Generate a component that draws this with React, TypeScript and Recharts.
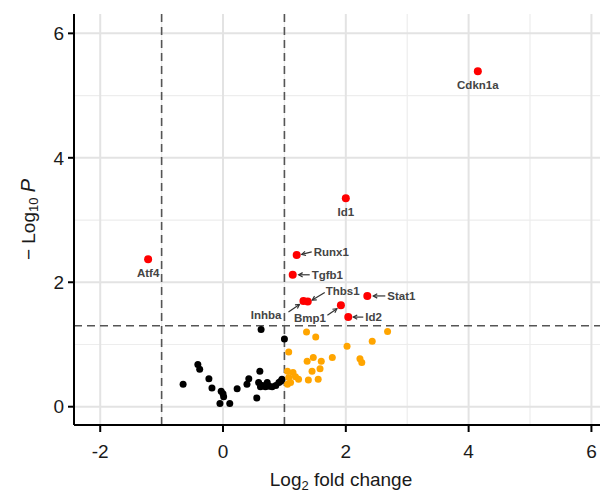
import React from 'react';
import { ScatterChart, Scatter, XAxis, YAxis, ReferenceLine } from 'recharts';

// Significant, labelled genes (red)
const sigGenes = ['Cdkn1a', 'Id1', 'Atf4', 'Runx1', 'Tgfb1', 'Inhba', 'Thbs1', 'Bmp1', 'Stat1', 'Id2'];
const sigX = [4.15, 2.0, -1.22, 1.2, 1.135, 1.31, 1.38, 1.92, 2.35, 2.04];
const sigY = [5.39, 3.35, 2.37, 2.44, 2.12, 1.7, 1.69, 1.63, 1.78, 1.44];

// Fold change passes, p-value does not (orange)
const upX = [1.36, 1.51, 2.68, 2.43, 2.02, 1.07, 1.37, 1.47, 1.6, 1.78, 2.23, 2.26, 1.58, 1.45, 1.55, 1.39, 1.05, 1.14, 1.18, 1.23, 1.07, 1.1, 1.05];
const upY = [1.2, 1.12, 1.21, 1.05, 0.97, 0.88, 0.73, 0.79, 0.73, 0.79, 0.77, 0.71, 0.61, 0.57, 0.44, 0.43, 0.57, 0.55, 0.48, 0.44, 0.47, 0.39, 0.36];

// Not significant (black)
const nsX = [0.62, 1.0, -0.65, -0.41, -0.38, -0.23, -0.18, -0.03, 0.0, -0.05, 0.11, 0.01, 0.23, 0.42, 0.39, 0.6, 0.55, 0.58, 0.64, 0.69, 0.75, 0.8, 0.86, 0.91, 0.94, 0.96, 0.72, 0.61];
const nsY = [1.24, 1.09, 0.36, 0.68, 0.6, 0.45, 0.3, 0.25, 0.21, 0.05, 0.05, 0.16, 0.29, 0.45, 0.36, 0.57, 0.14, 0.39, 0.34, 0.32, 0.33, 0.32, 0.34, 0.39, 0.41, 0.44, 0.39, 0.32];

const xTicks = [-2, 0, 2, 4, 6];
const yTicks = [0, 2, 4, 6];
const xMinor = [-1, 1, 3, 5];
const yMinor = [1, 3, 5];
const fcCutoffs = [-1, 1];
const pCutoff = 1.301;

// label placement (pixel offsets from the point)
type Lay = { tx: number; ty: number; anchor: 'start' | 'middle' | 'end'; arrow?: [number, number, number, number] };
const labelLayout: Record<string, Lay> = {
  Cdkn1a: { tx: 0, ty: 14, anchor: 'middle' },
  Id1: { tx: 0, ty: 14, anchor: 'middle' },
  Atf4: { tx: 0, ty: 14, anchor: 'middle' },
  Runx1: { tx: 17, ty: -3, anchor: 'start', arrow: [15, -3, 5, -0.5] },
  Tgfb1: { tx: 19, ty: 0, anchor: 'start', arrow: [17, 0, 6, 0] },
  Inhba: { tx: -22, ty: 13.6, anchor: 'end', arrow: [-15, 11, -4, 3.5] },
  Thbs1: { tx: 18, ty: -11, anchor: 'start', arrow: [17, -9, 4.5, -1.5] },
  Bmp1: { tx: -15, ty: 13, anchor: 'end', arrow: [-13.5, 10, -4, 3.5] },
  Stat1: { tx: 20, ty: 0, anchor: 'start', arrow: [18, 0, 6, 0] },
  Id2: { tx: 17, ty: 0, anchor: 'start', arrow: [15, 0, 5, 0] },
};

const toPoints = (xs: number[], ys: number[], names?: string[]) =>
  xs.map((x, i) => ({ x, y: ys[i], gene: names ? names[i] : '' }));

const sigData = toPoints(sigX, sigY, sigGenes);
const upData = toPoints(upX, upY);
const nsData = toPoints(nsX, nsY);

const FONT = '"Liberation Sans", Arial, sans-serif';

const dot = (color: string, r: number) => (props: any) => {
  const { cx, cy } = props;
  if (cx == null || cy == null) return <g />;
  return <circle cx={cx} cy={cy} r={r} fill={color} />;
};

const Arrow = ({ x1, y1, x2, y2 }: { x1: number; y1: number; x2: number; y2: number }) => {
  const ang = Math.atan2(y2 - y1, x2 - x1);
  const L = 4.5;
  const s = 0.5;
  const ax = x2 - L * Math.cos(ang - s);
  const ay = y2 - L * Math.sin(ang - s);
  const bx = x2 - L * Math.cos(ang + s);
  const by = y2 - L * Math.sin(ang + s);
  return (
    <g stroke="#333" strokeWidth={1.2} fill="none">
      <line x1={x1} y1={y1} x2={x2} y2={y2} />
      <polyline points={`${ax},${ay} ${x2},${y2} ${bx},${by}`} />
    </g>
  );
};

const SigShape = (props: any) => {
  const { cx, cy, payload } = props;
  if (cx == null || cy == null) return <g />;
  const lay = labelLayout[payload.gene];
  return (
    <g>
      <circle cx={cx} cy={cy} r={4} fill="#ff0000" />
      {lay && lay.arrow && (
        <Arrow x1={cx + lay.arrow[0]} y1={cy + lay.arrow[1]} x2={cx + lay.arrow[2]} y2={cy + lay.arrow[3]} />
      )}
      {lay && (
        <text
          x={cx + lay.tx}
          y={cy + lay.ty}
          textAnchor={lay.anchor}
          dominantBaseline="central"
          fontSize={11.5}
          fontWeight="bold"
          fill="#444444"
          fontFamily={FONT}
        >
          {payload.gene}
        </text>
      )}
    </g>
  );
};

const YLabel = (props: any) => {
  const vb = props.viewBox || {};
  const cx = (vb.x || 0) + 20;
  const cy = (vb.y || 0) + (vb.height || 0) / 2;
  return (
    <text
      x={cx}
      y={cy}
      transform={`rotate(-90, ${cx}, ${cy})`}
      textAnchor="middle"
      dominantBaseline="central"
      fontSize={19}
      fill="#1a1a1a"
      fontFamily={FONT}
    >
      <tspan>{'\u2212 Log'}</tspan>
      <tspan fontSize={13} dy={5}>10</tspan>
      <tspan dy={-5}>{' '}</tspan>
      <tspan fontStyle="italic" fontSize={20}>P</tspan>
    </text>
  );
};

const XLabel = (props: any) => {
  const vb = props.viewBox || {};
  const cx = (vb.x || 0) + (vb.width || 0) / 2;
  const y = (vb.y || 0) + 61;
  return (
    <text x={cx} y={y} textAnchor="middle" fontSize={19} fill="#1a1a1a" fontFamily={FONT}>
      <tspan>Log</tspan>
      <tspan fontSize={13} dy={4}>2</tspan>
      <tspan dy={-4}> fold change</tspan>
    </text>
  );
};

const tickStyle = { fontSize: 19, fill: '#1a1a1a', fontFamily: FONT };

export default function App() {
  return (
    <div style={{ width: 600, height: 485, fontFamily: FONT }}>
      <ScatterChart width={600} height={485} margin={{ top: 6, right: 0, bottom: 0, left: 0 }}>
        {xMinor.map((v) => (
          <ReferenceLine key={'xm' + v} x={v} stroke="#ededed" strokeWidth={1.2} />
        ))}
        {yMinor.map((v) => (
          <ReferenceLine key={'ym' + v} y={v} stroke="#ededed" strokeWidth={1.2} />
        ))}
        {xTicks.map((v) => (
          <ReferenceLine key={'xg' + v} x={v} stroke="#e3e3e3" strokeWidth={2} />
        ))}
        {yTicks.map((v) => (
          <ReferenceLine key={'yg' + v} y={v} stroke="#e3e3e3" strokeWidth={2} />
        ))}
        {fcCutoffs.map((v) => (
          <ReferenceLine key={'fc' + v} x={v} stroke="#555" strokeWidth={1.6} strokeDasharray="8 5" />
        ))}
        <ReferenceLine y={pCutoff} stroke="#555" strokeWidth={1.6} strokeDasharray="8 5" />
        <XAxis
          type="number"
          dataKey="x"
          domain={[-2.427, 6.27]}
          ticks={xTicks}
          interval={0}
          allowDataOverflow
          height={68}
          tickSize={7}
          tickMargin={13}
          axisLine={{ stroke: '#000', strokeWidth: 2 }}
          tickLine={{ stroke: '#000', strokeWidth: 2 }}
          tick={tickStyle}
          label={<XLabel />}
        />
        <YAxis
          type="number"
          dataKey="y"
          domain={[-0.294, 6.311]}
          ticks={yTicks}
          interval={0}
          allowDataOverflow
          width={66}
          tickSize={6}
          tickMargin={4}
          axisLine={{ stroke: '#000', strokeWidth: 2 }}
          tickLine={{ stroke: '#000', strokeWidth: 2 }}
          tick={tickStyle}
          label={<YLabel />}
        />
        <Scatter data={nsData} shape={dot('#000000', 3.5)} isAnimationActive={false} />
        <Scatter data={upData} shape={dot('#ffa500', 3.5)} isAnimationActive={false} />
        <Scatter data={sigData} shape={SigShape} isAnimationActive={false} />
      </ScatterChart>
    </div>
  );
}
